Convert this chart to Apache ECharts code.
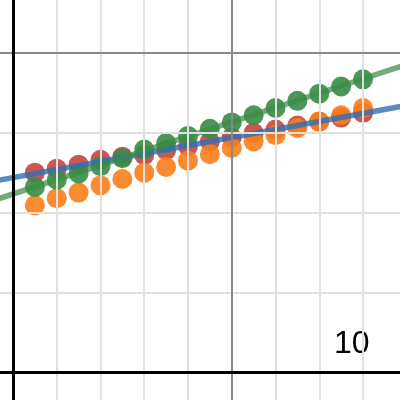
<!DOCTYPE html>
<html>
<head>
<meta charset="utf-8">
<script src="https://cdn.jsdelivr.net/npm/echarts@6/dist/echarts.min.js"></script>
<style>
  html, body { margin: 0; padding: 0; background: #fff; }
  #chart { width: 400px; height: 400px; }
</style>
</head>
<body>
<div id="chart"></div>
<script>
  // sample positions along x
  const xs = [0.5, 1, 1.5, 2, 2.5, 3, 3.5, 4, 4.5, 5, 5.5, 6, 6.5, 7, 7.5, 8]
  const redVals = [2.50, 2.55, 2.60, 2.66, 2.70, 2.72, 2.78, 2.83, 2.89, 2.94, 3.00, 3.04, 3.09, 3.14, 3.19, 3.25]
  const orangeVals = [2.09, 2.18, 2.25, 2.34, 2.42, 2.50, 2.57, 2.65, 2.73, 2.81, 2.89, 2.97, 3.06, 3.14, 3.22, 3.31]
  const greenVals = [2.32, 2.41, 2.49, 2.58, 2.68, 2.79, 2.87, 2.96, 3.05, 3.13, 3.22, 3.31, 3.40, 3.49, 3.58, 3.67]
  // fitted lines, end points
  const blueLine = [[-1, 2.337], [9, 3.343]]
  const greenLine = [[-1, 2.052], [9, 3.857]]
  // grid lines
  const xMinor = [1, 2, 3, 4, 6, 7, 8]
  const yMinor = [1, 2, 3]
  const xMajor = [5]
  const yMajor = [4]
  const cornerLabel = '10'

  const pair = vals => xs.map((x, i) => [x, vals[i]])
  const ls = (color, width) => ({ color: color, width: width, type: 'solid', opacity: 1 })

  const chart = echarts.init(document.getElementById('chart'))

  const scatter = (color, vals) => ({
    type: 'scatter',
    data: pair(vals),
    symbolSize: 20,
    itemStyle: { color: color, opacity: 0.9 },
    z: 3
  })

  const gridLines = []
    .concat(xMinor.map(v => ({ xAxis: v, lineStyle: ls('#e0e0e0', 2) })))
    .concat(yMinor.map(v => ({ yAxis: v, lineStyle: ls('#e0e0e0', 2) })))
    .concat(xMajor.map(v => ({ xAxis: v, lineStyle: ls('#8a8a8a', 2) })))
    .concat(yMajor.map(v => ({ yAxis: v, lineStyle: ls('#8a8a8a', 2) })))
    .concat([
      { xAxis: 0, lineStyle: ls('#000', 3) },
      { yAxis: 0, lineStyle: ls('#000', 3) }
    ])

  const options = {
    animation: false,
    grid: { left: 0, right: 0, top: 0, bottom: 0 },
    xAxis: {
      type: 'value',
      min: -0.2971,
      max: 8.8457,
      axisLine: { show: false },
      axisTick: { show: false },
      axisLabel: { show: false },
      splitLine: { show: false }
    },
    yAxis: {
      type: 'value',
      min: -0.3511,
      max: 4.6646,
      axisLine: { show: false },
      axisTick: { show: false },
      axisLabel: { show: false },
      splitLine: { show: false }
    },
    graphic: [{
      type: 'text',
      left: 334,
      top: 328,
      style: {
        text: cornerLabel,
        font: '32px "Liberation Sans", Arial, sans-serif',
        fill: '#000'
      }
    }],
    series: [
      {
        type: 'line',
        data: [],
        z: 1,
        markLine: {
          silent: true,
          symbol: 'none',
          label: { show: false },
          animation: false,
          data: gridLines
        }
      },
      scatter('#c74440', redVals),
      scatter('#fa7e19', orangeVals),
      scatter('#388c46', greenVals),
      {
        type: 'line',
        data: blueLine,
        symbol: 'none',
        lineStyle: { color: '#2d70b3', width: 5.5, opacity: 0.8 },
        z: 4
      },
      {
        type: 'line',
        data: greenLine,
        symbol: 'none',
        lineStyle: { color: '#388c46', width: 5.5, opacity: 0.72 },
        z: 4
      }
    ]
  }
  chart.setOption(options)
</script>
</body>
</html>
